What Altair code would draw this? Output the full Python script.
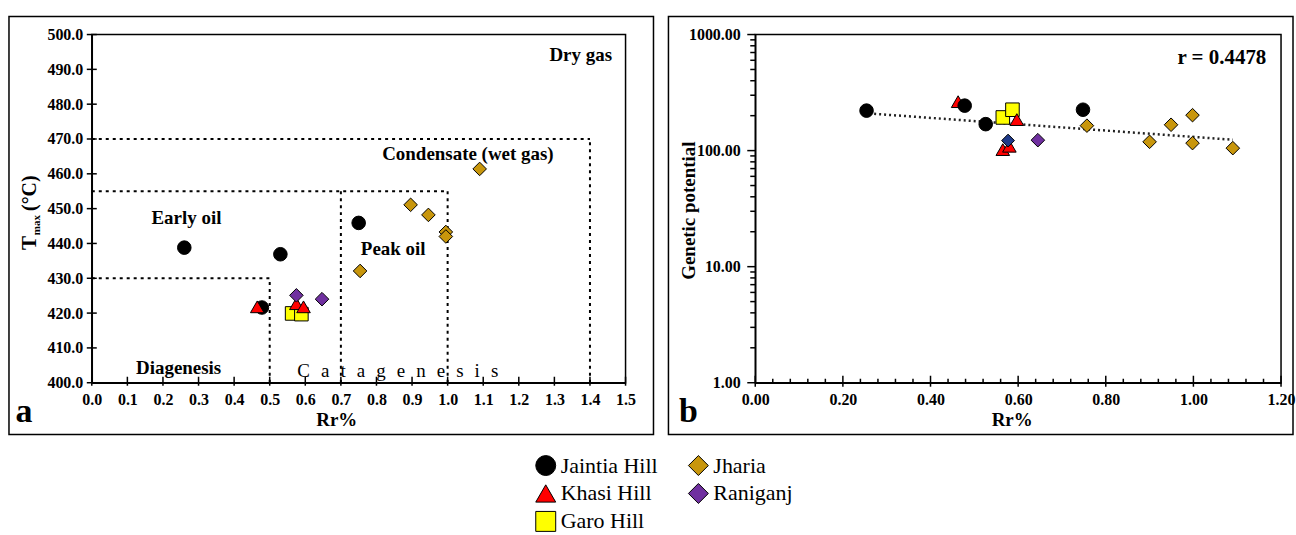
import altair as alt
import pandas as pd

# ---------------- data ----------------
series_order = ["Jaintia Hill", "Khasi Hill", "Garo Hill", "Jharia", "Raniganj"]
series_colors = ["#000000", "#FF0000", "#FFFF00", "#C8960C", "#7030A0"]
series_shapes = ["circle", "triangle-up", "square", "diamond", "diamond"]

# panel a : Rr% vs Tmax
garo_rr_a = [0.563, 0.589]
garo_tmax = [419.9, 419.7]
khasi_rr_a = [0.465, 0.575, 0.595]
khasi_tmax = [421.8, 422.7, 421.8]
jaintia_rr_a = [0.26, 0.53, 0.75, 0.478]
jaintia_tmax = [438.8, 436.9, 445.9, 421.6]
jharia_rr_a = [0.754, 0.896, 0.946, 0.995, 0.995, 1.09]
jharia_tmax = [432.1, 451.1, 448.2, 443.3, 442.0, 461.4]
raniganj_rr_a = [0.575, 0.647]
raniganj_tmax = [425.1, 424.0]

# panel b : Rr% vs Genetic potential
garo_rr_b = [0.565, 0.587]
garo_gp = [193, 225]
khasi_rr_b = [0.463, 0.597, 0.565, 0.58]
khasi_gp = [264, 185, 102, 109]
jaintia_rr_b = [0.254, 0.478, 0.526, 0.748]
jaintia_gp = [221, 244, 169, 225]
jharia_rr_b = [0.757, 0.949, 0.998, 0.90, 0.998, 1.09]
jharia_gp = [164, 167, 202, 119, 116, 105]
raniganj_rr_b = [0.645]
raniganj_gp = [123]
extra_rr_b = [0.577]
extra_gp = [122]

trend_rr = [0.26, 1.09]
trend_gp = [209, 124]

# region boundaries (panel a)
bound_x1 = [0.0, 0.5, 0.0, 1.0, 0.7, 0.0, 1.4]
bound_y1 = [430, 400, 455, 400, 400, 470, 400]
bound_x2 = [0.5, 0.5, 1.0, 1.0, 0.7, 1.4, 1.4]
bound_y2 = [430, 430, 455, 455, 455, 470, 470]

region_labels = ["Dry gas", "Condensate (wet gas)", "Early oil", "Peak oil", "Diagenesis"]
region_x = [1.374, 1.057, 0.266, 0.847, 0.244]
region_y = [494.0, 465.6, 447.3, 438.4, 404.3]
cat_label = "\u2002\u200a".join("Catagenesis")
cat_x = [0.86]
cat_y = [403.4]

ticks_a_y = [400, 410, 420, 430, 440, 450, 460, 470, 480, 490, 500]
ticks_a_x = [0.0, 0.1, 0.2, 0.3, 0.4, 0.5, 0.6, 0.7, 0.8, 0.9, 1.0, 1.1, 1.2, 1.3, 1.4, 1.5]
ticks_b_y = [1, 10, 100, 1000]
minor_b_y = [m * d for d in (1, 10, 100) for m in range(2, 10)]
ticks_b_x = [0.0, 0.2, 0.4, 0.6, 0.8, 1.0, 1.2]
minor_b_x = [0.04, 0.08, 0.12, 0.16, 0.24, 0.28, 0.32, 0.36, 0.44, 0.48, 0.52, 0.56,
             0.64, 0.68, 0.72, 0.76, 0.84, 0.88, 0.92, 0.96, 1.04, 1.08, 1.12, 1.16]

FONT = "Liberation Serif"
W_A, W_B, H = 535, 527, 349

# ---------------- helpers ----------------
def frame(x1, x2, y1, y2):
    return alt.Chart(pd.DataFrame({"k": [0]})).mark_rect(
        filled=False, stroke="black", strokeWidth=1.5
    ).encode(x=alt.value(x1), x2=alt.value(x2), y=alt.value(y1), y2=alt.value(y2))

def label(txt, x, y, size, angle=0, bold=True):
    return alt.Chart(pd.DataFrame({"t": [txt]})).mark_text(
        font=FONT, fontSize=size, fontWeight="bold" if bold else "normal",
        angle=angle, align="center", baseline="middle", color="black"
    ).encode(x=alt.value(x), y=alt.value(y), text="t:N")

leg = alt.Legend(title=None, labelFont=FONT, labelFontSize=22, labelColor="black",
                 symbolSize=400, symbolStrokeColor="black", symbolStrokeWidth=1)
color_enc = alt.Color("Series:N", scale=alt.Scale(domain=series_order, range=series_colors), legend=leg)
shape_enc = alt.Shape("Series:N", scale=alt.Scale(domain=series_order, range=series_shapes), legend=leg)

def make_points(groups):
    rows = []
    for name, xs, ys in groups:
        for a, b in zip(xs, ys):
            rows.append({"Series": name, "x": a, "y": b})
    return pd.DataFrame(rows)

LAB = dict(labelFont=FONT, labelFontSize=16, labelFontWeight="bold", labelColor="black",
           labelOverlap=False, labelFlush=False, ticks=False, grid=False,
           domainColor="black", domainWidth=1.5)
TIT = dict(titleFont=FONT, titleFontSize=19, titleFontWeight="bold", titleColor="black")

# ---------------- panel a ----------------
xa = alt.Scale(domain=[0, 1.5], nice=False)
ya = alt.Scale(domain=[400, 500], nice=False)
axis_a_x = alt.Axis(values=ticks_a_x, format=".1f", labelPadding=9, title="Rr%",
                    titleX=245, titleY=37, titleBaseline="middle", **LAB, **TIT)
axis_a_y = alt.Axis(values=ticks_a_y, format=".1f", labelPadding=9, title=None, **LAB)

def XA(f):
    return alt.X(f, type="quantitative", scale=xa, axis=axis_a_x)

def YA(f):
    return alt.Y(f, type="quantitative", scale=ya, axis=axis_a_y)

pts_a = make_points([
    ("Jaintia Hill", jaintia_rr_a, jaintia_tmax),
    ("Garo Hill", garo_rr_a, garo_tmax),
    ("Khasi Hill", khasi_rr_a, khasi_tmax),
    ("Jharia", jharia_rr_a, jharia_tmax),
    ("Raniganj", raniganj_rr_a, raniganj_tmax),
])

bounds_df = pd.DataFrame({"x1": bound_x1, "y1": bound_y1, "x2": bound_x2, "y2": bound_y2})
bounds = alt.Chart(bounds_df).mark_rule(color="black", strokeWidth=2, strokeDash=[3, 4]).encode(
    x=XA("x1"), y=YA("y1"), x2="x2:Q", y2="y2:Q")

ticks_ay = alt.Chart(pd.DataFrame({"v": ticks_a_y})).mark_rule(color="black", strokeWidth=1.5).encode(
    y=YA("v"), x=alt.value(-5), x2=alt.value(5))
ticks_ax = alt.Chart(pd.DataFrame({"v": ticks_a_x})).mark_rule(color="black", strokeWidth=1.5).encode(
    x=XA("v"), y=alt.value(H - 6), y2=alt.value(H + 3))

reg = alt.Chart(pd.DataFrame({"t": region_labels, "x": region_x, "y": region_y})).mark_text(
    font=FONT, fontSize=19, fontWeight="bold", color="black").encode(
    x=XA("x"), y=YA("y"), text="t:N")
cat = alt.Chart(pd.DataFrame({"t": [cat_label], "x": cat_x, "y": cat_y})).mark_text(
    font=FONT, fontSize=19, color="black").encode(
    x=XA("x"), y=YA("y"), text="t:N")

points_a = alt.Chart(pts_a).mark_point(filled=True, opacity=1, stroke="black", strokeWidth=1,
                                       size=185).encode(
    x=XA("x"), y=YA("y"), color=color_enc, shape=shape_enc)

panel_a = alt.layer(
    bounds, ticks_ay, ticks_ax, reg, cat, points_a,
    frame(-83, 563, -18, 401),
    label("T", -62, 209, 21, angle=270), label("max", -55, 191, 11, angle=270),
    label("(\u00b0C)", -62, 159, 20, angle=270),
    label("a", -68, 378, 34),
).properties(width=W_A, height=H)

# ---------------- panel b ----------------
xb = alt.Scale(domain=[0, 1.2], nice=False)
yb = alt.Scale(type="log", domain=[1, 1000], nice=False)
axis_b_x = alt.Axis(values=ticks_b_x, format=".2f", labelPadding=9, title="Rr%",
                    titleX=257, titleY=37, titleBaseline="middle", **LAB, **TIT)
axis_b_y = alt.Axis(values=ticks_b_y, format=".2f", labelPadding=15, title="Genetic potential",
                    titleX=-67, titleY=176, titleAngle=270, titleBaseline="middle", titleAlign="center",
                    **LAB, **TIT)

def XB(f):
    return alt.X(f, type="quantitative", scale=xb, axis=axis_b_x)

def YB(f):
    return alt.Y(f, type="quantitative", scale=yb, axis=axis_b_y)

pts_b = make_points([
    ("Garo Hill", garo_rr_b, garo_gp),
    ("Khasi Hill", khasi_rr_b, khasi_gp),
    ("Jaintia Hill", jaintia_rr_b, jaintia_gp),
    ("Jharia", jharia_rr_b, jharia_gp),
    ("Raniganj", raniganj_rr_b, raniganj_gp),
])

trend = alt.Chart(pd.DataFrame({"x": trend_rr, "y": trend_gp})).mark_line(
    color="#222222", strokeWidth=2.5, strokeDash=[2, 3]).encode(x=XB("x"), y=YB("y"))

ticks_by = alt.Chart(pd.DataFrame({"v": ticks_b_y})).mark_rule(color="black", strokeWidth=1.5).encode(
    y=YB("v"), x=alt.value(-8), x2=alt.value(0))
minor_by = alt.Chart(pd.DataFrame({"v": minor_b_y})).mark_rule(color="black", strokeWidth=1.5).encode(
    y=YB("v"), x=alt.value(-5), x2=alt.value(0))
ticks_bx = alt.Chart(pd.DataFrame({"v": ticks_b_x})).mark_rule(color="black", strokeWidth=1.5).encode(
    x=XB("v"), y=alt.value(H - 7), y2=alt.value(H + 4))
minor_bx = alt.Chart(pd.DataFrame({"v": minor_b_x})).mark_rule(color="black", strokeWidth=1.5).encode(
    x=XB("v"), y=alt.value(H - 4), y2=alt.value(H + 1))

points_b = alt.Chart(pts_b).mark_point(filled=True, opacity=1, stroke="black", strokeWidth=1,
                                       size=185).encode(
    x=XB("x"), y=YB("y"), color=color_enc, shape=shape_enc)
extra_b = alt.Chart(pd.DataFrame({"x": extra_rr_b, "y": extra_gp})).mark_point(
    filled=True, opacity=1, shape="diamond", size=165, fill="#1F3A8A", stroke="black", strokeWidth=1).encode(
    x=XB("x"), y=YB("y"))

rtxt = alt.Chart(pd.DataFrame({"t": ["r = 0.4478"], "x": [1.065], "y": [631]})).mark_text(
    font=FONT, fontSize=21, fontWeight="bold", color="black").encode(
    x=XB("x"), y=YB("y"), text="t:N")

panel_b = alt.layer(
    trend, ticks_by, minor_by, ticks_bx, minor_bx, points_b, extra_b, rtxt,
    frame(-87, 539, -18, 401),
    label("b", -67, 378, 34),
).properties(width=W_B, height=H)

chart = alt.hconcat(panel_a, panel_b, spacing=130, bounds="flush").resolve_scale(
    x="independent", y="independent"
).properties(
    autosize=alt.AutoSizeParams(type="pad"),
    padding={"left": 7, "top": 14, "right": 0, "bottom": 0},
    background="white",
).configure_view(stroke="black", strokeWidth=1.5).configure_legend(
    orient="none", legendX=444, legendY=421, columns=2, direction="vertical",
    labelFont=FONT, labelFontSize=22, labelColor="black", symbolSize=400,
    symbolStrokeColor="black", symbolStrokeWidth=1, rowPadding=4, columnPadding=28,
    labelOffset=4, padding=0,
)

chart.save("out.html", embed_options={"renderer": "svg", "actions": False})
